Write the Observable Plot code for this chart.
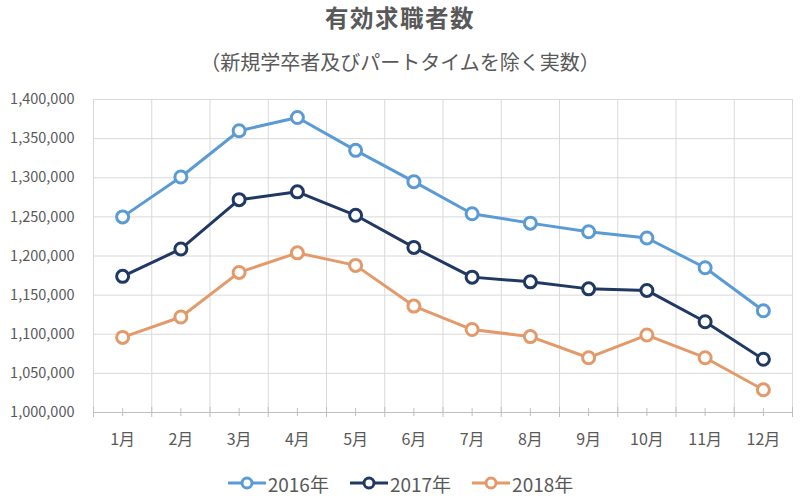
<!DOCTYPE html>
<html>
<head>
<meta charset="utf-8">
<script src="https://cdn.jsdelivr.net/npm/d3@7"></script>
<script src="https://cdn.jsdelivr.net/npm/@observablehq/plot@0.6"></script>
<style>
  html, body { margin: 0; padding: 0; background: #fff; overflow: hidden; }
  #wrap { width: 800px; height: 498px; font-family: "Noto Sans CJK JP", "Noto Sans", sans-serif; color: #595959; }
  #header { position: relative; height: 80px; }
  #title { position: absolute; left: 0; right: 0; top: 0; line-height: 34px; text-align: center; font-size: 23.5px; font-weight: bold; letter-spacing: 1.5px; }
  #subtitle { position: absolute; left: 0; right: 0; top: 44px; line-height: 36px; text-align: center; font-size: 20px; }
  #legend { height: 46px; display: flex; justify-content: center; align-items: center; gap: 20px; font-size: 19px; }
  .item { display: flex; align-items: center; gap: 1px; }
  #chart svg { display: block; }
</style>
</head>
<body>
<div id="wrap">
  <div id="header"><div id="title"></div><div id="subtitle"></div></div>
  <div id="chart"></div>
  <div id="legend"></div>
</div>
<script>
const titleText = "有効求職者数";
const subtitleText = "（新規学卒者及びパートタイムを除く実数）";
const months = ["1月","2月","3月","4月","5月","6月","7月","8月","9月","10月","11月","12月"];
const years = ["2016年","2017年","2018年"];
const colors = ["#5B9BD5","#203864","#E39A6A"];
const v2016 = [1250000,1301000,1360000,1377000,1335000,1295000,1254000,1242000,1231000,1223000,1185000,1130000];
const v2017 = [1174000,1209000,1272000,1282000,1252000,1211000,1173000,1167000,1158000,1156000,1116000,1068000];
const v2018 = [1096000,1122000,1179000,1204000,1188000,1136000,1106000,1097000,1070000,1099000,1070000,1029000];
const yTicks = [1000000,1050000,1100000,1150000,1200000,1250000,1300000,1350000,1400000];

document.getElementById("title").textContent = titleText;
document.getElementById("subtitle").textContent = subtitleText;

const series = [v2016, v2017, v2018];
const data = years.flatMap((yr, k) => series[k].map((v, i) => ({month: i + 1, value: v, series: yr})));
const centers = months.map((_, i) => i + 1);
const boundaries = [0.5, ...centers.map(c => c + 0.5)];
const yMin = yTicks[0], yMax = yTicks[yTicks.length - 1];

const chart = Plot.plot({
  width: 800,
  height: 380,
  marginLeft: 93,
  marginRight: 8,
  marginTop: 19,
  marginBottom: 48,
  style: {fontFamily: "'Noto Sans CJK JP', 'Noto Sans', sans-serif", color: "#595959", background: "white"},
  x: {domain: [boundaries[0], boundaries[boundaries.length - 1]]},
  y: {domain: [yMin, yMax]},
  color: {domain: years, range: colors},
  marks: [
    Plot.gridY(yTicks, {stroke: "#d9d9d9", strokeOpacity: 1}),
    Plot.gridX(boundaries, {stroke: "#d9d9d9", strokeOpacity: 1}),
    Plot.ruleY([yMin], {stroke: "#bfbfbf"}),
    Plot.ruleX(boundaries, {y1: yMin, y2: yMin, insetTop: -5, insetBottom: -5, stroke: "#bfbfbf"}),
    Plot.ruleX(centers, {y1: yMin, y2: yMin, insetTop: -4, insetBottom: -4, stroke: "#bfbfbf"}),
    Plot.axisY(yTicks, {tickSize: 0, tickPadding: 19, tickFormat: d3.format(","), fontSize: 14.5, label: null}),
    Plot.axisX(centers, {tickSize: 0, tickPadding: 21, tickFormat: i => months[i - 1], fontSize: 16, label: null}),
    Plot.line(data, {x: "month", y: "value", stroke: "series", strokeWidth: 3}),
    Plot.dot(data, {x: "month", y: "value", stroke: "series", fill: "white", r: 6, strokeWidth: 3})
  ]
});
document.getElementById("chart").appendChild(chart);

const legend = document.getElementById("legend");
years.forEach((yr, k) => {
  const item = document.createElement("div");
  item.className = "item";
  item.innerHTML = `<svg width="40" height="16"><line x1="1" x2="39" y1="8" y2="8" stroke="${colors[k]}" stroke-width="3"/><circle cx="20" cy="8" r="5" fill="white" stroke="${colors[k]}" stroke-width="3"/></svg><span>${yr}</span>`;
  legend.appendChild(item);
});
</script>
</body>
</html>
